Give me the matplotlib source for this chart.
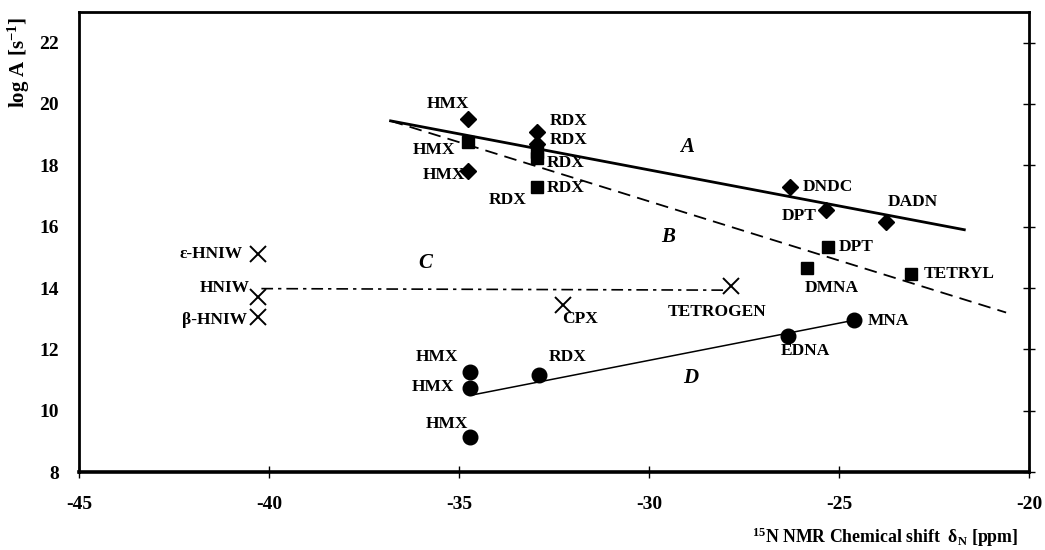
import matplotlib.pyplot as plt

plt.rcParams['font.family'] = ['Liberation Serif', 'DejaVu Serif']
plt.rcParams['font.weight'] = 'bold'
plt.rcParams['mathtext.fontset'] = 'custom'
plt.rcParams['mathtext.rm'] = 'Liberation Serif:bold'
plt.rcParams['mathtext.bf'] = 'Liberation Serif:bold'
plt.rcParams['mathtext.it'] = 'Liberation Serif:bold:italic'
plt.rcParams['axes.unicode_minus'] = False

# series A (diamonds)
a_x = [-34.75, -34.75, -32.95, -32.95, -26.3, -25.35, -23.75]
a_y = [19.5, 17.8, 19.1, 18.7, 17.3, 16.55, 16.15]
a_lab = ['HMX', 'HMX', 'RDX', 'RDX', 'DNDC', 'DPT', 'DADN']
a_off = [(-21, 15), (-25, -4), (32, 11), (32, 4), (38, 0), (-26, -6), (26, 20)]

# series B (squares)
b_x = [-34.75, -32.95, -32.95, -32.95, -25.3, -25.85, -23.1]
b_y = [18.75, 18.45, 18.25, 17.3, 15.35, 14.65, 14.45]
b_lab = ['HMX', 'RDX', 'RDX', 'RDX', 'DPT', 'DMNA', 'TETRYL']
b_off = [(-35, -8), (29, -11), (29, -30), (-29, -13), (29, 0), (25, -20), (48, 0)]

# series C (crosses)
c_x = [-40.3, -40.3, -40.3, -32.25, -27.85]
c_y = [15.1, 13.7, 13.05, 13.45, 14.05]
c_lab = ['ε-HNIW', 'HNIW', 'β-HNIW', 'CPX', 'TETROGEN']
c_off = [(-47, 0), (-33, 9), (-43, -3), (17, -14), (-14, -26)]

# series D (circles)
d_x = [-34.7, -34.7, -34.7, -32.9, -26.35, -24.6]
d_y = [11.25, 10.75, 9.15, 11.15, 12.45, 12.95]
d_lab = ['HMX', 'HMX', 'HMX', 'RDX', 'EDNA', 'MNA']
d_off = [(-33, 15), (-37, 1), (-23, 13), (29, 18), (18, -15), (34, -1)]

# correlation lines
line_a_x, line_a_y = [-36.8, -21.7], [19.45, 15.9]
line_b_x, line_b_y = [-36.8, -20.6], [19.45, 13.2]
line_c_x, line_c_y = [-40.2, -27.95], [13.98, 13.93]
line_d_x, line_d_y = [-34.7, -24.6], [10.5, 12.95]

regions = ['A', 'B', 'C', 'D']
region_x = [-29.0, -29.5, -35.9, -28.9]
region_y = [18.6, 15.65, 14.8, 11.05]

fig = plt.figure(figsize=(10.45, 5.5), dpi=100)
ax = fig.add_axes([0.0756, 0.1418, 0.909, 0.8364])

ax.plot(line_a_x, line_a_y, color='black', lw=2)
ax.plot(line_b_x, line_b_y, color='black', lw=1.3, dashes=(7, 4))
ax.plot(line_c_x, line_c_y, color='black', lw=1.2, dashes=(7, 3, 2, 3))
ax.plot(line_d_x, line_d_y, color='black', lw=1.1)

ax.plot(a_x, a_y, 'D', color='black', ms=8.5, ls='none')
ax.plot(b_x, b_y, 's', color='black', ms=8, ls='none')
ax.plot(c_x, c_y, 'x', color='black', ms=11, mew=1.4, ls='none')
ax.plot(d_x, d_y, 'o', color='black', ms=10.5, ls='none')

for xs, ys, labs, offs in [(a_x, a_y, a_lab, a_off), (b_x, b_y, b_lab, b_off),
                           (c_x, c_y, c_lab, c_off), (d_x, d_y, d_lab, d_off)]:
    for x, y, t, o in zip(xs, ys, labs, offs):
        ax.annotate(t, (x, y), xytext=o, textcoords='offset pixels',
                    ha='center', va='center', fontsize=12.5, fontweight='bold')

for t, x, y in zip(regions, region_x, region_y):
    ax.text(x, y, t, ha='center', va='center', fontsize=15,
            fontweight='bold', style='italic')

ax.set_xlim(-45, -20)
ax.set_ylim(8, 23)
ax.set_xticks(range(-45, -19, 5))
ax.set_yticks(range(8, 23, 2))
ax.tick_params(axis='x', direction='inout', length=9, width=1, pad=13,
               labelsize=14)
ax.tick_params(axis='y', left=False, right=True, direction='inout',
               length=9, width=1, pad=10, labelsize=14)
for s in ax.spines.values():
    s.set_linewidth(2)
ax.spines['bottom'].set_linewidth(2.6)

ax.set_ylabel('log A [s$^{-1}$]', fontsize=15, fontweight='bold')
ax.yaxis.set_label_coords(-0.05, 0.89)
fig.text(885 / 1045, 1 - 537 / 550,
         '$^{15}$N NMR Chemical shift  δ$_{\\mathrm{N}}$ [ppm]',
         ha='center', va='center', fontsize=12.8, fontweight='bold')

fig.savefig('out.png', dpi=100)
